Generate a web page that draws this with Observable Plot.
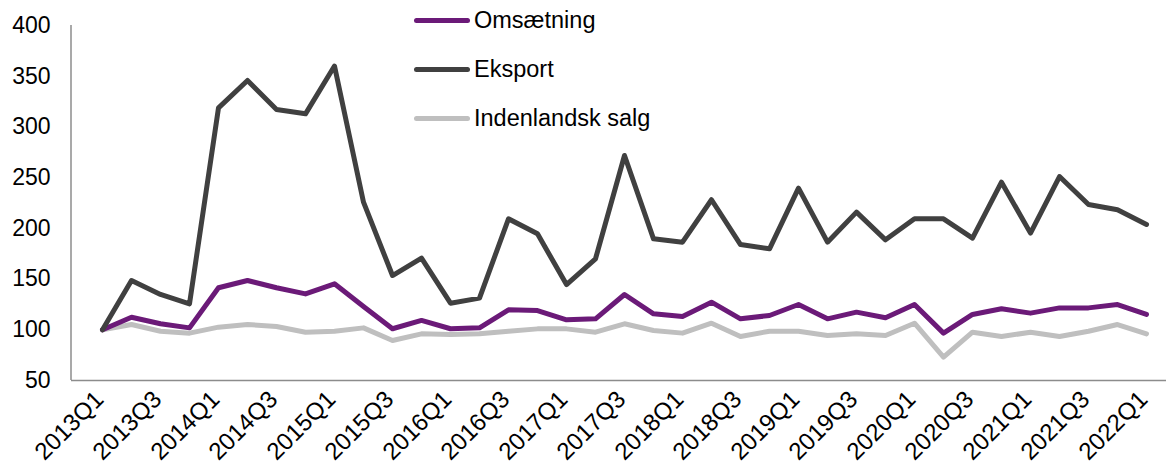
<!DOCTYPE html>
<html>
<head>
<meta charset="utf-8">
<script src="https://cdn.jsdelivr.net/npm/d3@7"></script>
<script src="https://cdn.jsdelivr.net/npm/@observablehq/plot@0.6"></script>
<style>
  html, body { margin: 0; padding: 0; background: #fff; }
  #wrap { position: relative; width: 1166px; height: 468px; overflow: hidden; font-family: "Liberation Sans", Arial, sans-serif; }
  #legend { position: absolute; left: 414px; top: 0; }
  .item { position: absolute; left: 0; white-space: nowrap; display: flex; align-items: center; font-size: 23.5px; color: #000; }
  .sw { width: 56px; height: 5px; border-radius: 3px; margin-right: 4px; }
</style>
</head>
<body>
<div id="wrap"><div id="legend"></div></div>
<script>
const quarters = [];
for (let y = 2013; y <= 2022; y++) for (let q = 1; q <= 4; q++) if (y < 2022 || q === 1) quarters.push(y + "Q" + q);

const seriesNames = ["Omsætning", "Eksport", "Indenlandsk salg"];
const seriesColors = ["#6B1A78", "#404040", "#BFBFBF"];

const omsaetning = [100, 112.4, 105.9, 101.9, 141.4, 148.6, 141.4, 135.4, 145.3, 123, 101, 109.2, 101, 102, 119.7, 119, 109.8, 110.8, 134.8, 115.7, 113.1, 127.2, 110.8, 114.1, 124.9, 110.8, 117.4, 111.8, 124.9, 96.7, 115.1, 120.7, 116.4, 121.6, 121.6, 124.9, 115.1];
const eksport = [100, 148.6, 134.8, 125.6, 318.8, 345.8, 317.2, 312.9, 360, 225.8, 153.5, 170.6, 126.2, 131.2, 209.4, 194.6, 144.6, 170, 271.8, 189.7, 186.4, 228.2, 184, 179.8, 239.6, 186.4, 216, 188.7, 209.4, 209.4, 190.3, 245.5, 195.3, 251.1, 223.5, 218.3, 203.8];
const indenlandsk = [100, 105.2, 98.6, 96.7, 102.6, 105.2, 103.2, 97.6, 98.6, 101.9, 89.4, 96, 95.3, 96, 98.6, 100.9, 100.9, 97.6, 105.9, 99.3, 96.7, 106.5, 93.4, 98.6, 98.6, 94.4, 96, 94.4, 106.5, 73, 97.6, 93.4, 97.6, 93.4, 98.6, 105.2, 96];

const yTicks = [50, 100, 150, 200, 250, 300, 350, 400];
const xTickLabels = quarters.filter((d, i) => i % 2 === 0);

const seriesValues = [omsaetning, eksport, indenlandsk];
const data = [];
// draw order: light gray at bottom, then purple, then dark
[2, 0, 1].forEach(s => {
  quarters.forEach((q, i) => data.push({ series: seriesNames[s], quarter: q, value: seriesValues[s][i] }));
});

const W = 1166, H = 468, mL = 71, mT = 25, mB = 88;
const plot = Plot.plot({
  width: W,
  height: H,
  marginLeft: mL,
  marginRight: 0,
  marginTop: mT,
  marginBottom: mB,
  style: { fontFamily: "'Liberation Sans', Arial, sans-serif", fontSize: "23px", color: "#000", background: "transparent", overflow: "visible" },
  x: { type: "point", domain: quarters, range: [86, 1162] },
  y: { domain: [50, 400], range: [H - mB, mT] },
  color: { domain: seriesNames, range: seriesColors },
  marks: [
    Plot.ruleY([50], { stroke: "#8c8c8c", strokeWidth: 1.5 }),
    Plot.line(data, { x: "quarter", y: "value", z: "series", stroke: "series", strokeWidth: 5, strokeLinejoin: "round", strokeLinecap: "round" }),
    Plot.axisY({ ticks: yTicks, tickSize: 0, tickPadding: 21, label: null, fontSize: 23 }),
    Plot.axisX({ ticks: xTickLabels, tickSize: 0, tickPadding: 15, tickRotate: -45, dx: -3, label: null, fontSize: 24 })
  ]
});

// left axis line
const svg = d3.select(plot);
svg.append("line")
  .attr("x1", mL).attr("x2", mL)
  .attr("y1", mT).attr("y2", H - mB)
  .attr("stroke", "#8c8c8c").attr("stroke-width", 1.5);

const wrap = document.getElementById("wrap");
wrap.insertBefore(plot, wrap.firstChild);

const legend = document.getElementById("legend");
const legendTops = [7, 56, 105];
seriesNames.forEach((name, i) => {
  const div = document.createElement("div");
  div.className = "item";
  div.style.top = legendTops[i] + "px";
  div.innerHTML = `<span class="sw" style="background:${seriesColors[i]}"></span><span>${name}</span>`;
  legend.appendChild(div);
});
</script>
</body>
</html>
